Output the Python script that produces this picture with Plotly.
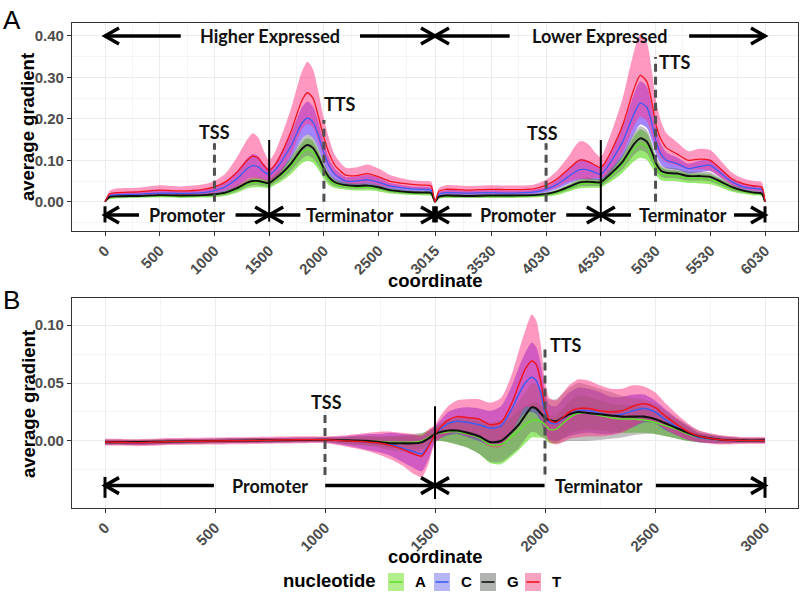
import plotly.graph_objects as go

# ---------------- data ----------------
NUCS = ["A", "C", "G", "T"]
LINE_COLORS = {"A": "#5fe22a", "C": "#3d5cf2", "G": "#111111", "T": "#f0141e"}
FILL_COLORS = {"A": "rgba(70,215,0,0.55)", "C": "rgba(95,45,255,0.58)",
               "G": "rgba(100,100,100,0.4)", "T": "rgba(255,50,130,0.5)"}
SWATCH_FILL = {"A": "#b2ee8c", "C": "#b6b6f6", "G": "#b0b3b0", "T": "#f7a3c0"}

# Panel A : coordinate
xa = [0, 40, 100, 300, 500, 700, 900, 1000, 1100, 1200, 1300, 1350, 1400, 1450, 1500,
      1550, 1600, 1700, 1800, 1850, 1900, 1950, 2000, 2050, 2100, 2200, 2300, 2400, 2500,
      2600, 2700, 2800, 2900, 2980, 3015,
      3050, 3115, 3315, 3515, 3715, 3915, 4030, 4130, 4230, 4330, 4380, 4430, 4480, 4530,
      4580, 4630, 4730, 4830, 4890, 4950, 5000, 5030, 5080, 5130, 5230, 5330, 5430, 5530,
      5630, 5730, 5830, 5930, 6000, 6030]

a_mean_T = [0, .018, .022, .024, .028, .026, .030, .036, .048, .070, .100, .110, .105, .088, .075,
            .088, .110, .170, .245, .263, .250, .205, .155, .115, .088, .064, .063, .068, .060,
            .050, .045, .042, .040, .038, 0,
            .025, .030, .028, .030, .029, .031, .040, .055, .078, .100, .100, .095, .088, .082,
            .100, .125, .185, .270, .305, .290, .235, .190, .150, .130, .115, .100, .103, .100,
            .078, .055, .044, .038, .035, 0]
a_se_T = [0, .008, .010, .010, .012, .011, .012, .014, .020, .035, .050, .055, .050, .035, .025,
          .030, .040, .055, .070, .075, .070, .060, .045, .035, .025, .018, .020, .022, .020,
          .015, .012, .010, .010, .010, .002,
          .008, .010, .010, .010, .010, .010, .013, .020, .030, .045, .045, .040, .030, .025,
          .035, .045, .065, .090, .100, .095, .075, .060, .045, .035, .028, .022, .025, .025,
          .020, .015, .012, .012, .012, .002]
a_mean_C = [0, .014, .017, .018, .021, .020, .022, .027, .036, .054, .080, .087, .084, .073, .065,
            .075, .092, .135, .190, .202, .192, .160, .118, .085, .066, .050, .050, .053, .047,
            .038, .034, .031, .030, .028, 0,
            .018, .022, .021, .022, .021, .023, .030, .042, .060, .077, .078, .075, .070, .066,
            .080, .100, .145, .210, .238, .228, .185, .150, .115, .100, .092, .080, .085, .088,
            .068, .048, .036, .032, .030, 0]
a_se_C = [0, .005, .006, .006, .007, .006, .007, .008, .011, .018, .025, .028, .026, .019, .014,
          .016, .022, .030, .038, .040, .038, .032, .025, .019, .014, .010, .011, .012, .011,
          .008, .007, .006, .006, .006, .001,
          .005, .006, .006, .006, .006, .006, .007, .011, .017, .024, .024, .022, .017, .014,
          .019, .025, .036, .048, .052, .050, .040, .032, .025, .019, .015, .012, .014, .014,
          .011, .008, .007, .007, .007, .001]
a_mean_G = [0, .011, .013, .014, .016, .015, .016, .018, .022, .032, .046, .050, .050, .047, .045,
            .055, .065, .092, .128, .137, .130, .108, .080, .058, .047, .040, .038, .039, .035,
            .028, .025, .023, .022, .021, 0,
            .012, .015, .014, .015, .015, .016, .019, .025, .035, .046, .048, .048, .047, .047,
            .058, .070, .097, .138, .153, .145, .118, .095, .075, .070, .068, .062, .062, .060,
            .048, .035, .027, .022, .020, 0]
a_se_G = [0, .003, .003, .003, .004, .004, .004, .004, .005, .007, .009, .010, .010, .009, .008,
          .010, .012, .017, .024, .026, .025, .021, .016, .012, .009, .007, .007, .007, .006,
          .005, .005, .004, .004, .004, .001,
          .003, .004, .004, .004, .004, .004, .004, .005, .007, .009, .010, .010, .009, .009,
          .011, .013, .018, .026, .029, .028, .023, .018, .014, .013, .012, .011, .011, .011,
          .009, .007, .005, .004, .004, .001]
a_mean_A = [0, .010, .012, .013, .014, .013, .014, .016, .020, .029, .042, .046, .046, .044, .043,
            .052, .061, .086, .118, .126, .120, .099, .072, .052, .043, .037, .035, .035, .032,
            .026, .023, .021, .020, .019, 0,
            .011, .013, .013, .013, .013, .014, .017, .022, .032, .042, .044, .045, .044, .044,
            .054, .065, .090, .127, .140, .133, .108, .086, .068, .064, .062, .057, .056, .054,
            .044, .032, .025, .020, .018, 0]
a_se_A = [0, .004, .004, .004, .004, .004, .004, .005, .006, .008, .010, .011, .011, .010, .010,
          .012, .014, .019, .025, .027, .026, .022, .017, .013, .010, .008, .008, .008, .007,
          .006, .005, .005, .005, .005, .001,
          .004, .004, .004, .004, .004, .004, .005, .006, .008, .010, .011, .011, .010, .010,
          .012, .015, .020, .030, .034, .032, .026, .020, .016, .014, .013, .012, .012, .012,
          .010, .008, .006, .005, .005, .001]

# Panel B : coordinate
xb = [0, 50, 150, 300, 500, 700, 900, 1000, 1100, 1200, 1250, 1300, 1350, 1400, 1440, 1470,
      1500, 1530, 1560, 1600, 1650, 1700, 1750, 1800, 1850, 1880, 1910, 1940, 1960, 1980,
      2000, 2020, 2050, 2080, 2110, 2150, 2200, 2250, 2300, 2350, 2400, 2450, 2500, 2550,
      2600, 2650, 2700, 2800, 2900, 3000]
b_mean_T = [-.001, -.001, -.0015, -.0005, 0, .0005, .001, .001, 0, -.001, -.002, -.004, -.007,
            -.011, -.013, -.005, .006, .013, .018, .021, .020, .019, .014, .016, .033, .048,
            .062, .069, .066, .052, .030, .018, .016, .020, .025, .028, .028, .026, .025, .026,
            .030, .032, .029, .021, .014, .008, .004, .001, .0005, .0005]
b_se_T = [.003, .003, .003, .003, .003, .003, .003, .003, .005, .008, .010, .012, .014, .017,
          .018, .015, .008, .010, .012, .014, .016, .017, .019, .021, .025, .029, .033, .040,
          .038, .032, .022, .019, .019, .021, .023, .025, .024, .022, .020, .019, .018, .015,
          .013, .011, .009, .007, .005, .004, .003, .003]
b_mean_C = [-.001, -.001, -.0015, -.0005, 0, .0005, .001, .001, 0, -.001, -.002, -.003, -.006,
            -.009, -.011, -.004, .006, .011, .015, .017, .016, .014, .011, .013, .028, .040,
            .050, .055, .052, .042, .025, .016, .015, .019, .023, .026, .026, .024, .022, .023,
            .026, .028, .025, .018, .012, .007, .003, .001, .0005, .0005]
b_se_C = [.002, .002, .002, .002, .002, .002, .002, .002, .004, .007, .008, .010, .012, .014,
          .015, .012, .007, .008, .010, .011, .013, .014, .015, .017, .020, .023, .026, .030,
          .029, .025, .018, .015, .015, .017, .019, .020, .019, .018, .016, .015, .014, .012,
          .010, .009, .007, .006, .004, .003, .002, .002]
b_mean_G = [-.001, -.001, -.001, -.0005, 0, .0005, .0008, .001, .0005, 0, -.001, -.002, -.002,
            -.002, -.001, .002, .006, .008, .009, .009, .007, .004, -.001, 0, .008, .014, .022,
            .029, .028, .024, .020, .018, .017, .020, .023, .025, .024, .023, .022, .021, .021,
            .021, .019, .015, .011, .007, .004, .001, .0005, .0005]
b_se_G = [.002, .002, .002, .002, .002, .002, .002, .002, .003, .004, .005, .006, .007, .008,
          .008, .007, .006, .008, .010, .012, .013, .015, .017, .018, .019, .020, .020, .021,
          .021, .020, .018, .018, .019, .021, .023, .025, .024, .022, .020, .018, .016, .015,
          .013, .011, .009, .007, .005, .003, .002, .002]
b_mean_A = [-.001, -.001, -.001, -.0005, 0, .0005, .0008, .001, .0005, 0, -.0005, -.001, -.001,
            -.001, 0, .003, .006, .007, .008, .008, .006, .003, -.003, -.003, .004, .009, .014,
            .018, .018, .017, .014, .010, .010, .015, .020, .024, .024, .022, .020, .019, .019,
            .018, .016, .013, .010, .006, .003, .001, .0005, .0005]
b_se_A = [.002, .002, .002, .002, .002, .002, .002, .002, .003, .004, .004, .005, .005, .006,
          .006, .006, .006, .007, .009, .011, .012, .014, .016, .017, .017, .017, .016, .015,
          .015, .014, .012, .012, .012, .013, .014, .015, .014, .013, .012, .012, .012, .011,
          .010, .009, .008, .006, .004, .003, .002, .002]

# tick labels
a_xticks = [0, 500, 1000, 1500, 2000, 2500, 3015, 3530, 4030, 4530, 5030, 5530, 6030]
b_xticks = [0, 500, 1000, 1500, 2000, 2500, 3000]
a_yticks = [0.0, 0.1, 0.2, 0.3, 0.4]
b_yticks = [0.0, 0.05, 0.10]

# annotation geometry (data units)
A_TOP_Y = 0.40
A_TOP_ARROWS = [(692, 0), (2330, 3015), (3697, 3015), (5337, 6030)]
A_TOP_TEXT = [(1507, "Higher Expressed"), (4522, "Lower Expressed")]
A_BOT_Y = -0.032
A_BOT_ARROWS = [(311, 0), (1193, 1500), (1785, 1500), (2697, 3015),
                (3349, 3015), (4214, 4530), (4806, 4530), (5747, 6030)]
A_BOT_TEXT = [(750, "Promoter"), (2240, "Terminator"), (3772, "Promoter"), (5282, "Terminator")]
A_END_BARS = [0, 3003, 3027, 6030]
A_END_BAR_Y = (-0.050, -0.011)
A_BOUNDS = [1500, 4530]
A_BOUND_Y = (-0.048, 0.149)
A_DASHED = [(1000, 0.0, 0.141), (2000, 0.0, 0.197), (4030, 0.0, 0.141), (5030, 0.0, 0.349)]
A_SITES = [(1002, 0.168, "TSS", "center"), (1983, 0.235, "TTS", "left"),
           (3994, 0.165, "TSS", "center"), (5046, 0.337, "TTS", "left")]

B_BOT_Y = -0.0385
B_ARROWS = [(495, 0), (1001, 1500), (1998, 1500), (2504, 3000)]
B_TEXT = [(750, "Promoter"), (2245, "Terminator")]
B_END_BARS = [0, 3000]
B_END_BAR_Y = (-0.049, -0.031)
B_BOUNDS = [1500]
B_BOUND_Y = (-0.050, 0.030)
B_DASHED = [(1000, -0.0293, 0.0224), (2000, -0.029, 0.080)]
B_SITES = [(1009, 0.034, "TSS", "center"), (2012, 0.0828, "TTS", "left")]

panelA = {"A": (a_mean_A, a_se_A), "C": (a_mean_C, a_se_C),
          "G": (a_mean_G, a_se_G), "T": (a_mean_T, a_se_T)}
panelB = {"A": (b_mean_A, b_se_A), "C": (b_mean_C, b_se_C),
          "G": (b_mean_G, b_se_G), "T": (b_mean_T, b_se_T)}

# ---------------- figure ----------------
W, H = 802, 592
fig = go.Figure()

LSHAPE = dict(shape="spline", smoothing=0.7)


def add_panel(x, data, xref, yref, lw):
    for n in NUCS:
        m, s = data[n]
        lo = [a - b for a, b in zip(m, s)]
        hi = [a + b for a, b in zip(m, s)]
        fig.add_trace(go.Scatter(x=x, y=lo, xaxis=xref, yaxis=yref, mode="lines",
                                 line=dict(width=0, **LSHAPE), showlegend=False,
                                 hoverinfo="skip"))
        fig.add_trace(go.Scatter(x=x, y=hi, xaxis=xref, yaxis=yref, mode="lines",
                                 line=dict(width=0, **LSHAPE), fill="tonexty",
                                 fillcolor=FILL_COLORS[n], showlegend=False,
                                 hoverinfo="skip"))
    for n in NUCS:
        m, _ = data[n]
        fig.add_trace(go.Scatter(x=x, y=m, xaxis=xref, yaxis=yref, mode="lines",
                                 line=dict(color=LINE_COLORS[n],
                                           width=lw + (0.6 if n == "G" else 0), **LSHAPE),
                                 name=n, showlegend=False))


add_panel(xa, panelA, "x", "y", 1.3)
add_panel(xb, panelB, "x2", "y2", 1.5)

shapes = []
annos = []
TXT = dict(family="Lato", size=18, color="#111111", weight="bold")


def chevron(xr, yr, x, y, d):
    return dict(type="path", xref=xr, yref=yr, xsizemode="pixel", ysizemode="pixel",
                xanchor=x, yanchor=y,
                path=f"M {-d*14},8 L 0,0 L {-d*14},-8",
                line=dict(color="black", width=3.5))


def arrows(xr, yr, y, lst):
    for tail, head in lst:
        shapes.append(dict(type="line", xref=xr, yref=yr, x0=tail, x1=head, y0=y, y1=y,
                           line=dict(color="black", width=3.5)))
        shapes.append(chevron(xr, yr, head, y, 1 if head > tail else -1))


def vlines(xr, yr, xs, y0, y1, width=2.5, dash=None, color="black"):
    for x in xs:
        ln = dict(color=color, width=width)
        if dash:
            ln["dash"] = dash
        shapes.append(dict(type="line", xref=xr, yref=yr, x0=x, x1=x, y0=y0, y1=y1, line=ln))


def texts(xr, yr, y, lst):
    for x, t in lst:
        annos.append(dict(x=x, y=y, xref=xr, yref=yr, text=t, showarrow=False,
                          font=TXT, xanchor="center", yanchor="middle"))


# panel A
arrows("x", "y", A_TOP_Y, A_TOP_ARROWS)
texts("x", "y", A_TOP_Y, A_TOP_TEXT)
arrows("x", "y", A_BOT_Y, A_BOT_ARROWS)
texts("x", "y", A_BOT_Y, A_BOT_TEXT)
vlines("x", "y", A_END_BARS, *A_END_BAR_Y, width=3)
vlines("x", "y", A_BOUNDS, *A_BOUND_Y, width=2)
for x, y0, y1 in A_DASHED:
    vlines("x", "y", [x], y0, y1, width=3, dash="8px,5px", color="#505050")
for x, y, t, anc in A_SITES:
    annos.append(dict(x=x, y=y, xref="x", yref="y", text=t, showarrow=False, font=TXT,
                      xanchor=anc, yanchor="middle"))
# panel B
arrows("x2", "y2", B_BOT_Y, B_ARROWS)
texts("x2", "y2", B_BOT_Y, B_TEXT)
vlines("x2", "y2", B_END_BARS, *B_END_BAR_Y, width=3)
vlines("x2", "y2", B_BOUNDS, *B_BOUND_Y, width=2)
for x, y0, y1 in B_DASHED:
    vlines("x2", "y2", [x], y0, y1, width=3, dash="8px,5px", color="#505050")
for x, y, t, anc in B_SITES:
    annos.append(dict(x=x, y=y, xref="x2", yref="y2", text=t, showarrow=False, font=TXT,
                      xanchor=anc, yanchor="middle"))


def py(px):
    return 1 - px / H


def pxx(px):
    return px / W


AX_TITLE = dict(family="Liberation Sans", size=18.5, color="black", weight="bold")
# panel letters
annos.append(dict(x=pxx(1), y=py(3), xref="paper", yref="paper", text="A", showarrow=False,
                  xanchor="left", yanchor="top",
                  font=dict(family="Liberation Sans", size=26, color="black")))
annos.append(dict(x=pxx(1), y=py(283), xref="paper", yref="paper", text="B", showarrow=False,
                  xanchor="left", yanchor="top",
                  font=dict(family="Liberation Sans", size=26, color="black")))
# axis titles
for (xp, yp, t, ang) in [(435, 280, "coordinate", 0), (435, 556, "coordinate", 0),
                         (28, 127, "average gradient", -90), (28, 404, "average gradient", -90)]:
    annos.append(dict(x=pxx(xp), y=py(yp), xref="paper", yref="paper", text=t,
                      showarrow=False, textangle=ang, font=AX_TITLE,
                      xanchor="center", yanchor="middle"))

# legend (manual)
annos.append(dict(x=pxx(329), y=py(580), xref="paper", yref="paper", text="nucleotide",
                  showarrow=False, font=AX_TITLE, xanchor="center", yanchor="middle"))
LEG_X = {"A": 388, "C": 434, "G": 480, "T": 525}
for n in NUCS:
    x0 = LEG_X[n]
    shapes.append(dict(type="rect", xref="paper", yref="paper", x0=pxx(x0), x1=pxx(x0 + 16),
                       y0=py(591), y1=py(573), fillcolor=SWATCH_FILL[n], line=dict(width=0)))
    shapes.append(dict(type="line", xref="paper", yref="paper", x0=pxx(x0 + 1.5),
                       x1=pxx(x0 + 14.5), y0=py(582), y1=py(582),
                       line=dict(color=LINE_COLORS[n], width=1.6)))
    annos.append(dict(x=pxx(x0 + 25), y=py(581), xref="paper", yref="paper", text=n,
                      showarrow=False, xanchor="left", yanchor="middle",
                      font=dict(family="Liberation Sans", size=15, color="black",
                                weight="bold")))

TICKF = dict(family="Liberation Sans", size=15, color="#4d4d4d", weight="bold")
GRID = "#ebebeb"
MINOR = dict(showgrid=True, gridcolor="#f4f4f4", gridwidth=0.6)


def mids(v):
    return [(a + b) / 2 for a, b in zip(v[:-1], v[1:])]


xdom = [72 / W, 798 / W]
common = dict(showline=True, linecolor="#333333", linewidth=1.3, mirror=True,
              ticks="outside", ticklen=4, tickcolor="#333333", tickwidth=1,
              gridcolor=GRID, gridwidth=1, tickfont=TICKF, zeroline=False)

fig.update_layout(
    width=W, height=H, margin=dict(l=0, r=0, t=0, b=0),
    paper_bgcolor="white", plot_bgcolor="white", showlegend=False,
    xaxis=dict(domain=xdom, anchor="y", range=[-301.5, 6331.5], tickvals=a_xticks,
               ticktext=[str(v) for v in a_xticks], tickangle=-45,
               minor=dict(tickvals=mids(a_xticks), **MINOR), **common),
    yaxis=dict(domain=[py(231), py(23)], anchor="x", range=[-0.0706, 0.4313],
               tickvals=a_yticks, tickformat=".2f",
               minor=dict(tickvals=[-0.05, 0.05, 0.15, 0.25, 0.35], **MINOR), **common),
    xaxis2=dict(domain=xdom, anchor="y2", range=[-150, 3150], tickvals=b_xticks,
                ticktext=[str(v) for v in b_xticks], tickangle=-45,
                minor=dict(tickvals=mids(b_xticks), **MINOR), **common),
    yaxis2=dict(domain=[py(508), py(298)], anchor="x2", range=[-0.0578, 0.1233],
                tickvals=b_yticks, tickformat=".2f",
                minor=dict(tickvals=[-0.025, 0.025, 0.075], **MINOR), **common),
    shapes=shapes, annotations=annos,
)

fig.write_html("out.html", config={"displayModeBar": False},
               post_script="document.body.style.margin='0';document.body.style.overflow='hidden';")
